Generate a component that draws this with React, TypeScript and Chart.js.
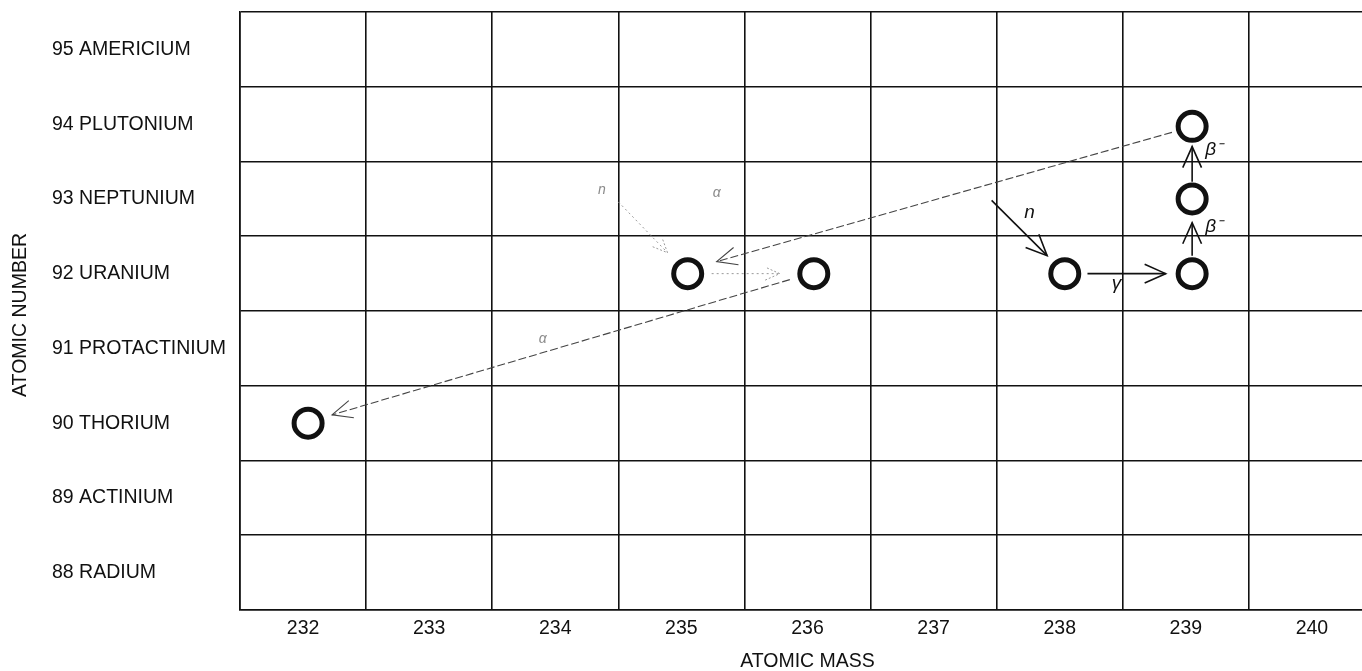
import React, { useEffect, useRef } from 'react';
import { Chart, registerables } from 'chart.js';

Chart.register(...registerables);

// ---- data ----
const MASS_TICKS = [232, 233, 234, 235, 236, 237, 238, 239, 240];
const Z_TICKS = [88, 89, 90, 91, 92, 93, 94, 95];
const ELEMENT_NAMES = ['RADIUM', 'ACTINIUM', 'THORIUM', 'PROTACTINIUM', 'URANIUM', 'NEPTUNIUM', 'PLUTONIUM', 'AMERICIUM'];

// nuclides (circles) as placed in the picture
const NUCLIDE_MASS = [232.04, 235.05, 236.05, 238.04, 239.05, 239.05, 239.05];
const NUCLIDE_Z = [90.0, 92.0, 92.0, 92.0, 92.0, 93.0, 93.97];

// arrows: [fromMass, fromZ, toMass, toZ]
const ARROWS = [
  [234.5, 92.96, 234.89, 92.28],
  [235.24, 92.0, 235.78, 92.0],
  [238.89, 93.89, 235.28, 92.16],
  [235.86, 91.92, 232.23, 90.11],
  [237.46, 92.98, 237.9, 92.24],
  [238.22, 92.0, 238.84, 92.0],
  [239.05, 92.24, 239.05, 92.68],
  [239.05, 93.23, 239.05, 93.7],
];
const ARROW_KINDS = ['faint', 'faint', 'alpha', 'alpha', 'solid', 'solid', 'solid', 'solid'];

// annotation labels
const LABEL_TEXT = ['n', 'α', 'α', 'n', 'γ', 'β⁻', 'β⁻'];
const LABEL_MASS = [234.37, 235.28, 233.9, 237.76, 238.45, 239.22, 239.22];
const LABEL_Z = [93.12, 93.08, 91.12, 92.82, 91.86, 92.63, 93.66];
const LABEL_KINDS = ['faint', 'faint', 'faint', 'solid', 'solid', 'solid', 'solid'];

const X_TITLE = 'ATOMIC MASS';
const Y_TITLE = 'ATOMIC NUMBER';

const FONT_FAMILY = '"Liberation Sans", Arial, Helvetica, sans-serif';
const INK = '#111';

const ARROW_STYLES: Record<string, { color: string; width: number; dash: number[]; head: number; angle: number }> = {
  solid: { color: INK, width: 1.6, dash: [], head: 23, angle: 0.42 },
  alpha: { color: '#444', width: 1.1, dash: [8, 3], head: 22, angle: 0.42 },
  faint: { color: '#9a9a9a', width: 1, dash: [2, 3], head: 16, angle: 0.42 },
};

function drawArrow(ctx: CanvasRenderingContext2D, x1: number, y1: number, x2: number, y2: number, st: any) {
  ctx.save();
  ctx.strokeStyle = st.color;
  ctx.lineWidth = st.width;
  ctx.setLineDash(st.dash);
  ctx.beginPath();
  ctx.moveTo(x1, y1);
  ctx.lineTo(x2, y2);
  ctx.stroke();
  const a = Math.atan2(y2 - y1, x2 - x1);
  ctx.setLineDash(st === ARROW_STYLES.faint ? [2, 2] : []);
  ctx.beginPath();
  ctx.moveTo(x2 - st.head * Math.cos(a - st.angle), y2 - st.head * Math.sin(a - st.angle));
  ctx.lineTo(x2, y2);
  ctx.lineTo(x2 - st.head * Math.cos(a + st.angle), y2 - st.head * Math.sin(a + st.angle));
  ctx.stroke();
  ctx.restore();
}

const annotationPlugin = {
  id: 'decayArrows',
  beforeDatasetsDraw(chart: any) {
    const { ctx, scales } = chart;
    const xs = scales.x;
    const ys = scales.y;
    ARROWS.forEach((a, i) => {
      drawArrow(
        ctx,
        xs.getPixelForValue(a[0]),
        ys.getPixelForValue(a[1]),
        xs.getPixelForValue(a[2]),
        ys.getPixelForValue(a[3]),
        ARROW_STYLES[ARROW_KINDS[i]]
      );
    });
    ctx.save();
    ctx.textAlign = 'center';
    ctx.textBaseline = 'middle';
    LABEL_TEXT.forEach((t, i) => {
      const faint = LABEL_KINDS[i] === 'faint';
      ctx.fillStyle = faint ? '#8a8a8a' : INK;
      ctx.font = faint ? `italic 14px ${FONT_FAMILY}` : `italic 19px ${FONT_FAMILY}`;
      ctx.fillText(t, xs.getPixelForValue(LABEL_MASS[i]), ys.getPixelForValue(LABEL_Z[i]));
    });
    ctx.restore();
  },
  afterDraw(chart: any) {
    const { ctx, chartArea } = chart;
    ctx.save();
    ctx.translate(21, (chartArea.top + chartArea.bottom) / 2 + 4);
    ctx.rotate(-Math.PI / 2);
    ctx.textAlign = 'center';
    ctx.textBaseline = 'middle';
    ctx.fillStyle = INK;
    ctx.font = `19.5px ${FONT_FAMILY}`;
    ctx.fillText(Y_TITLE, 0, 0);
    ctx.restore();
  },
};

export default function App() {
  const canvasRef = useRef<HTMLCanvasElement | null>(null);

  useEffect(() => {
    if (!canvasRef.current) return;
    const points = NUCLIDE_MASS.map((m, i) => ({ x: m, y: NUCLIDE_Z[i] }));
    const chart = new Chart(canvasRef.current, {
      type: 'scatter',
      data: {
        datasets: [
          {
            data: points,
            pointRadius: 14,
            pointHoverRadius: 14,
            pointBorderWidth: 5,
            pointBorderColor: INK,
            pointBackgroundColor: '#ffffff',
            showLine: false,
          },
        ],
      },
      options: {
        animation: false,
        responsive: true,
        maintainAspectRatio: false,
        layout: { autoPadding: false, padding: { left: 52, top: 12, right: 5, bottom: 17 } },
        plugins: { legend: { display: false }, tooltip: { enabled: false } },
        scales: {
          x: {
            type: 'linear',
            min: 231.5,
            max: 240.5,
            afterBuildTicks: (s: any) => {
              s.ticks = MASS_TICKS.map((v) => ({ value: v }));
            },
            afterFit: (s: any) => {
              s.height = 63;
              s.paddingLeft = 0;
              s.paddingRight = 0;
            },
            grid: { offset: true, color: INK, lineWidth: 1.6, drawTicks: false },
            border: { display: true, color: INK, width: 1.6 },
            ticks: {
              padding: 7,
              autoSkip: false,
              maxRotation: 0,
              color: INK,
              font: { family: FONT_FAMILY, size: 19.5 },
              callback: (v: any) => String(v),
            },
            title: {
              display: true,
              text: X_TITLE,
              color: INK,
              font: { family: FONT_FAMILY, size: 19.5 },
              padding: { top: 4, bottom: 0 },
            },
          },
          y: {
            type: 'linear',
            min: 87.5,
            max: 95.5,
            afterBuildTicks: (s: any) => {
              s.ticks = Z_TICKS.map((v) => ({ value: v }));
            },
            afterFit: (s: any) => {
              s.width = 188;
              s.paddingTop = 0;
              s.paddingBottom = 0;
            },
            grid: { offset: true, color: INK, lineWidth: 1.6, drawTicks: false },
            border: { display: true, color: INK, width: 1.6 },
            ticks: {
              padding: 0,
              crossAlign: 'far',
              autoSkip: false,
              color: INK,
              font: { family: FONT_FAMILY, size: 19.5 },
              callback: (v: any) => `${v} ${ELEMENT_NAMES[Z_TICKS.indexOf(Number(v))]}`,
            },
          },
        },
      },
      plugins: [annotationPlugin],
    });
    return () => chart.destroy();
  }, []);

  return (
    <div style={{ position: 'fixed', left: 0, top: 0, width: 1362, height: 671, overflow: 'hidden', background: '#fff' }}>
      <div style={{ position: 'relative', width: 1380, height: 690 }}>
        <canvas ref={canvasRef} />
      </div>
    </div>
  );
}
